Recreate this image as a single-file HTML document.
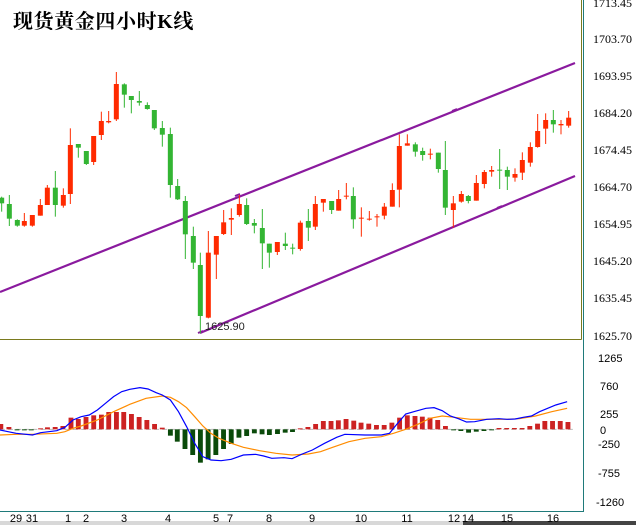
<!DOCTYPE html>
<html><head><meta charset="utf-8"><style>
html,body{margin:0;padding:0;background:#fff;}
svg{display:block;}
</style></head><body>
<svg width="636" height="525" viewBox="0 0 636 525" xmlns="http://www.w3.org/2000/svg">
<rect width="636" height="525" fill="#fff"/>
<!-- borders -->
<line x1="581.5" y1="0" x2="581.5" y2="339.5" stroke="#7a7a1e" stroke-width="1"/>
<line x1="0" y1="339.5" x2="581.5" y2="339.5" stroke="#7a7a1e" stroke-width="1"/>
<line x1="583.5" y1="0" x2="583.5" y2="512" stroke="#1f7a7a" stroke-width="1"/>
<line x1="0" y1="511.5" x2="583.5" y2="511.5" stroke="#1f7a7a" stroke-width="1"/>
<!-- scrollbar -->
<rect x="0" y="521" width="636" height="4" fill="#d8d8d8"/>
<rect x="463" y="521" width="173" height="4" fill="#444"/>
<!-- title -->
<text x="13" y="28" font-family="'Liberation Serif','Noto Serif CJK SC',serif" font-weight="bold" font-size="20" fill="#000" letter-spacing="0.6">现货黄金四小时K线</text>
<!-- y labels -->
<g font-family="'Liberation Serif',serif" font-size="12" fill="#000">
<text x="593" y="7">1713.45</text>
<text x="593" y="43">1703.70</text>
<text x="593" y="80">1693.95</text>
<text x="593" y="117">1684.20</text>
<text x="593" y="154">1674.45</text>
<text x="593" y="191">1664.70</text>
<text x="593" y="228">1654.95</text>
<text x="593" y="265">1645.20</text>
<text x="593" y="302">1635.45</text>
<text x="593" y="340">1625.70</text>
</g>
<g font-family="'Liberation Sans',sans-serif" font-size="11" fill="#000">
<text x="598" y="362">1265</text>
<text x="600" y="390">760</text>
<text x="600" y="418">255</text>
<text x="600" y="434">0</text>
<text x="598" y="448">-250</text>
<text x="598" y="477">-755</text>
<text x="596" y="506">-1260</text>
</g>
<g font-family="'Liberation Sans',sans-serif" font-size="11" fill="#000" text-anchor="middle">
<text x="16" y="522">29</text><text x="32" y="522">31</text><text x="68" y="522">1</text><text x="86" y="522">2</text>
<text x="124" y="522">3</text><text x="168" y="522">4</text><text x="216" y="522">5</text><text x="230" y="522">7</text>
<text x="269" y="522">8</text><text x="312" y="522">9</text><text x="361" y="522">10</text><text x="407" y="522">11</text>
<text x="454" y="522">12</text><text x="468" y="522">14</text><text x="507" y="522">15</text><text x="553" y="522">16</text>
</g>
<!-- channels -->
<g stroke="#8a1a9e" stroke-width="2.2" fill="none">
<line x1="0" y1="292" x2="575" y2="63"/>
<line x1="200" y1="333" x2="575" y2="176"/>
<path d="M235 196 l5 -2 M452 111 l5 -2 M497 208 l5 -2 M198 333 l5 -2" stroke-width="2"/>
</g>
<text x="205" y="330" font-family="'Liberation Sans',sans-serif" font-size="11" fill="#222">1625.90</text>
<!-- candles zoom1: translate(0,60) scale 1/3 -->
<g transform="translate(0,60) scale(0.33333)">
<!-- function: wick rect x-1.5 w3 ; body x-7.5 w15 -->
<g fill="#33b533">
<rect x="3.5" y="410" width="3" height="45"/><rect x="-2.5" y="413" width="15" height="17"/>
<rect x="26.5" y="405" width="3" height="93"/><rect x="20.5" y="432" width="15" height="44"/>
<rect x="50.5" y="478" width="3" height="22"/><rect x="44.5" y="480" width="15" height="17"/>
<rect x="164.5" y="333" width="3" height="137"/><rect x="158.5" y="383" width="15" height="52"/>
<rect x="233.5" y="252" width="3" height="41"/><rect x="227.5" y="252" width="15" height="11"/>
<rect x="257.5" y="273" width="3" height="42"/><rect x="251.5" y="273" width="15" height="39"/>
<rect x="371.5" y="70" width="3" height="73"/><rect x="365.5" y="73" width="15" height="31"/>
<rect x="392.5" y="108" width="3" height="52"/><rect x="386.5" y="108" width="15" height="12"/>
<rect x="416.5" y="93" width="3" height="44"/><rect x="410.5" y="123" width="15" height="5"/>
<rect x="440.5" y="127" width="3" height="22"/><rect x="434.5" y="135" width="15" height="12"/>
<rect x="461.5" y="150" width="3" height="60"/><rect x="455.5" y="150" width="15" height="55"/>
<rect x="485.5" y="183" width="3" height="77"/><rect x="479.5" y="204" width="15" height="20"/>
<rect x="509.5" y="203" width="3" height="210"/><rect x="503.5" y="222" width="15" height="153"/>
<rect x="531.5" y="357" width="3" height="63"/><rect x="525.5" y="378" width="15" height="40"/>
<rect x="554.5" y="408" width="3" height="189"/><rect x="548.5" y="423" width="15" height="100"/>
<rect x="578.5" y="500" width="3" height="127"/><rect x="572.5" y="528" width="15" height="80"/>
<rect x="599.5" y="578" width="3" height="242"/><rect x="593.5" y="615" width="15" height="153"/>
<rect x="738.5" y="415" width="3" height="80"/><rect x="732.5" y="435" width="15" height="57"/>
<rect x="761.5" y="477" width="3" height="43"/><rect x="755.5" y="489" width="15" height="8"/>
<rect x="785.5" y="447" width="3" height="180"/><rect x="779.5" y="504" width="15" height="46"/>
<rect x="806.5" y="551" width="3" height="72"/><rect x="800.5" y="551" width="15" height="27"/>
<rect x="854.5" y="518" width="3" height="52"/><rect x="848.5" y="551" width="15" height="7"/>
<rect x="876.5" y="551" width="3" height="32"/><rect x="870.5" y="563" width="15" height="3"/>
<rect x="923.5" y="447" width="3" height="96"/><rect x="917.5" y="483" width="15" height="20"/>
</g>
<g fill="#ff2a00">
<rect x="71.5" y="459" width="3" height="41"/><rect x="65.5" y="483" width="15" height="14"/>
<rect x="95.5" y="465" width="3" height="35"/><rect x="89.5" y="465" width="15" height="32"/>
<rect x="119.5" y="417" width="3" height="50"/><rect x="113.5" y="435" width="15" height="32"/>
<rect x="140.5" y="375" width="3" height="60"/><rect x="134.5" y="383" width="15" height="52"/>
<rect x="188.5" y="385" width="3" height="58"/><rect x="182.5" y="405" width="15" height="32"/>
<rect x="209.5" y="205" width="3" height="227"/><rect x="203.5" y="255" width="15" height="147"/>
<rect x="279.5" y="228" width="3" height="87"/><rect x="273.5" y="228" width="15" height="78"/>
<rect x="302.5" y="155" width="3" height="85"/><rect x="296.5" y="183" width="15" height="42"/>
<rect x="324.5" y="153" width="3" height="37"/><rect x="318.5" y="183" width="15" height="4"/>
<rect x="347.5" y="36" width="3" height="147"/><rect x="341.5" y="72" width="15" height="106"/>
<rect x="623.5" y="513" width="3" height="262"/><rect x="617.5" y="578" width="15" height="195"/>
<rect x="647.5" y="528" width="3" height="129"/><rect x="641.5" y="528" width="15" height="56"/>
<rect x="669.5" y="450" width="3" height="75"/><rect x="663.5" y="487" width="15" height="35"/>
<rect x="692.5" y="445" width="3" height="80"/><rect x="686.5" y="474" width="15" height="5"/>
<rect x="716.5" y="405" width="3" height="65"/><rect x="710.5" y="432" width="15" height="33"/>
<rect x="830.5" y="546" width="3" height="39"/><rect x="824.5" y="546" width="15" height="30"/>
<rect x="899.5" y="482" width="3" height="90"/><rect x="893.5" y="488" width="15" height="79"/>
<rect x="944.5" y="408" width="3" height="102"/><rect x="938.5" y="432" width="15" height="68"/>
</g>
</g>
<!-- candles zoom2: translate(300,100) -->
<g transform="translate(300,100) scale(0.33333)">
<g fill="#33b533">
<rect x="93.5" y="303" width="3" height="39"/><rect x="87.5" y="303" width="15" height="27"/>
<rect x="158.5" y="262" width="3" height="124"/><rect x="152.5" y="288" width="15" height="70"/>
<rect x="344.5" y="127" width="3" height="43"/><rect x="338.5" y="133" width="15" height="22"/>
<rect x="366.5" y="143" width="3" height="39"/><rect x="360.5" y="153" width="15" height="12"/>
<rect x="413.5" y="158" width="3" height="60"/><rect x="407.5" y="158" width="15" height="49"/>
<rect x="434.5" y="123" width="3" height="222"/><rect x="428.5" y="210" width="15" height="113"/>
<rect x="503.5" y="285" width="3" height="25"/><rect x="497.5" y="288" width="15" height="15"/>
<rect x="597.5" y="147" width="3" height="120"/><rect x="591.5" y="209" width="15" height="3"/>
<rect x="620.5" y="200" width="3" height="70"/><rect x="614.5" y="210" width="15" height="20"/>
<rect x="758.5" y="30" width="3" height="68"/><rect x="752.5" y="60" width="15" height="13"/>
</g>
<g fill="#ff2a00">
<rect x="68.5" y="297" width="3" height="38"/><rect x="62.5" y="297" width="15" height="11"/>
<rect x="114.5" y="270" width="3" height="62"/><rect x="108.5" y="297" width="15" height="35"/>
<rect x="137.5" y="249" width="3" height="49"/><rect x="131.5" y="287" width="15" height="3"/>
<rect x="182.5" y="322" width="3" height="88"/><rect x="176.5" y="353" width="15" height="3"/>
<rect x="206.5" y="333" width="3" height="29"/><rect x="200.5" y="356" width="15" height="3"/>
<rect x="229.5" y="342" width="3" height="38"/><rect x="223.5" y="349" width="15" height="3"/>
<rect x="251.5" y="309" width="3" height="49"/><rect x="245.5" y="320" width="15" height="27"/>
<rect x="275.5" y="250" width="3" height="70"/><rect x="269.5" y="270" width="15" height="50"/>
<rect x="296.5" y="103" width="3" height="219"/><rect x="290.5" y="138" width="15" height="131"/>
<rect x="320.5" y="103" width="3" height="34"/><rect x="314.5" y="130" width="15" height="7"/>
<rect x="389.5" y="146" width="3" height="32"/><rect x="383.5" y="161" width="15" height="3"/>
<rect x="458.5" y="288" width="3" height="95"/><rect x="452.5" y="310" width="15" height="20"/>
<rect x="482.5" y="273" width="3" height="35"/><rect x="476.5" y="282" width="15" height="23"/>
<rect x="527.5" y="225" width="3" height="77"/><rect x="521.5" y="249" width="15" height="53"/>
<rect x="551.5" y="210" width="3" height="55"/><rect x="545.5" y="216" width="15" height="36"/>
<rect x="573.5" y="198" width="3" height="32"/><rect x="567.5" y="210" width="15" height="5"/>
<rect x="643.5" y="205" width="3" height="40"/><rect x="637.5" y="222" width="15" height="11"/>
<rect x="665.5" y="157" width="3" height="83"/><rect x="659.5" y="180" width="15" height="38"/>
<rect x="689.5" y="127" width="3" height="73"/><rect x="683.5" y="141" width="15" height="47"/>
<rect x="711.5" y="42" width="3" height="101"/><rect x="705.5" y="93" width="15" height="48"/>
<rect x="735.5" y="40" width="3" height="92"/><rect x="729.5" y="60" width="15" height="26"/>
<rect x="781.5" y="60" width="3" height="43"/><rect x="775.5" y="72" width="15" height="4"/>
<rect x="804.5" y="33" width="3" height="50"/><rect x="798.5" y="53" width="15" height="24"/>
</g>
</g>
<!-- MACD: zoom coords x/2.465, y/3 -->
<g transform="translate(0,340) scale(0.40568,0.33333)">
<line x1="0" y1="268" x2="1415" y2="268" stroke="#bbb" stroke-width="3" stroke-dasharray="12,8"/>
<g fill="#cc2222">
<rect x="-4" y="252" width="12" height="16"/><rect x="16" y="261" width="12" height="7"/>
<rect x="94" y="265" width="12" height="3"/><rect x="111" y="262" width="12" height="6"/><rect x="130" y="261" width="12" height="7"/><rect x="149" y="258" width="12" height="10"/>
<rect x="169" y="233" width="12" height="35"/><rect x="187" y="237" width="12" height="31"/><rect x="206" y="231" width="12" height="37"/><rect x="225" y="226" width="12" height="42"/>
<rect x="244" y="224" width="12" height="44"/><rect x="262" y="216" width="12" height="52"/><rect x="281" y="216" width="12" height="52"/><rect x="299" y="216" width="12" height="52"/>
<rect x="318" y="222" width="12" height="46"/><rect x="337" y="231" width="12" height="37"/><rect x="356" y="240" width="12" height="28"/><rect x="375" y="252" width="12" height="16"/><rect x="394" y="263" width="12" height="5"/>
<rect x="734" y="265" width="12" height="3"/><rect x="753" y="261" width="12" height="7"/><rect x="772" y="252" width="12" height="16"/><rect x="791" y="243" width="12" height="25"/>
<rect x="810" y="243" width="12" height="25"/><rect x="828" y="241" width="12" height="27"/><rect x="847" y="237" width="12" height="31"/><rect x="866" y="242" width="12" height="26"/>
<rect x="884" y="248" width="12" height="20"/><rect x="903" y="251" width="12" height="17"/><rect x="922" y="255" width="12" height="13"/><rect x="941" y="255" width="12" height="13"/>
<rect x="960" y="248" width="12" height="20"/><rect x="979" y="233" width="12" height="35"/><rect x="998" y="226" width="12" height="42"/><rect x="1017" y="228" width="12" height="40"/>
<rect x="1035" y="230" width="12" height="38"/><rect x="1054" y="233" width="12" height="35"/><rect x="1073" y="240" width="12" height="28"/><rect x="1092" y="258" width="12" height="10"/>
<rect x="1224" y="264" width="12" height="4"/><rect x="1243" y="264" width="12" height="4"/><rect x="1262" y="264" width="12" height="4"/><rect x="1281" y="264" width="12" height="4"/>
<rect x="1300" y="258" width="12" height="10"/><rect x="1319" y="251" width="12" height="17"/><rect x="1337" y="243" width="12" height="25"/><rect x="1356" y="243" width="12" height="25"/>
<rect x="1375" y="243" width="12" height="25"/><rect x="1394" y="246" width="12" height="22"/>
</g>
<g fill="#0a4a0a">
<rect x="36" y="268" width="12" height="3"/><rect x="54" y="268" width="12" height="3"/><rect x="71" y="268" width="12" height="3"/>
<rect x="414" y="268" width="12" height="19"/><rect x="431" y="268" width="12" height="37"/><rect x="450" y="268" width="12" height="59"/><rect x="469" y="268" width="12" height="77"/>
<rect x="488" y="268" width="12" height="100"/><rect x="507" y="268" width="12" height="90"/><rect x="526" y="268" width="12" height="77"/><rect x="545" y="268" width="12" height="59"/>
<rect x="564" y="268" width="12" height="44"/><rect x="583" y="268" width="12" height="25"/><rect x="602" y="268" width="12" height="20"/><rect x="621" y="268" width="12" height="12"/>
<rect x="640" y="268" width="12" height="15"/><rect x="658" y="268" width="12" height="17"/><rect x="678" y="268" width="12" height="14"/><rect x="697" y="268" width="12" height="10"/><rect x="715" y="268" width="12" height="8"/>
<rect x="1112" y="268" width="12" height="3"/><rect x="1130" y="268" width="12" height="5"/><rect x="1149" y="268" width="12" height="10"/><rect x="1168" y="268" width="12" height="7"/>
<rect x="1187" y="268" width="12" height="5"/><rect x="1206" y="268" width="12" height="3"/>
</g>
<polyline fill="none" stroke="#ff8c00" stroke-width="1.2" vector-effect="non-scaling-stroke" points="0,285 40,283 80,283 140,280 160,275 180,265 200,258 240,240 280,215 320,193 360,175 400,168 420,172 440,185 460,203 480,230 500,258 520,280 540,295 570,310 600,322 640,332 680,340 720,345 760,342 790,335 820,322 860,305 900,295 940,290 970,280 1000,268 1030,253 1060,235 1090,228 1120,232 1160,238 1200,238 1250,238 1280,236 1320,228 1360,215 1398,205"/>
<polyline fill="none" stroke="#0000ff" stroke-width="1.2" vector-effect="non-scaling-stroke" points="0,270 20,275 40,280 80,285 100,278 140,272 160,262 180,240 200,230 220,225 240,210 260,190 280,170 300,155 320,148 345,143 365,147 385,158 400,165 420,180 440,215 460,260 480,310 500,350 520,360 545,362 570,358 600,345 630,343 650,348 670,355 700,353 720,356 745,342 770,330 800,310 830,292 850,283 900,285 940,285 960,280 980,250 1000,222 1020,215 1050,205 1070,203 1090,212 1110,228 1130,236 1150,246 1170,245 1200,238 1230,236 1250,238 1270,237 1290,232 1310,228 1330,215 1350,205 1370,195 1398,185"/>
</g>
</svg>
</body></html>
